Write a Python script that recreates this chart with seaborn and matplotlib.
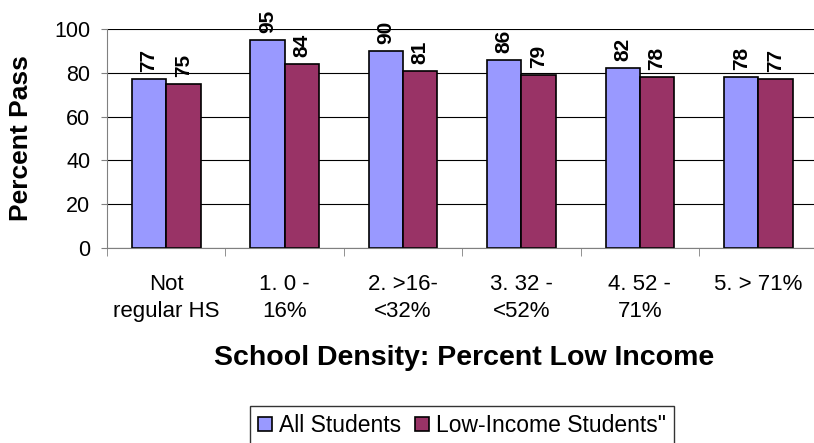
import pandas as pd
import seaborn as sns
import matplotlib.pyplot as plt

# Data
categories = ['Not\nregular HS', '1. 0 -\n16%', '2. >16-\n<32%', '3. 32 -\n<52%', '4. 52 -\n71%', '5. > 71%']
all_students = [77, 95, 90, 86, 82, 78]
low_income = [75, 84, 81, 79, 78, 77]
series_names = ['All Students', 'Low-Income Students"']

df = pd.DataFrame({
    'category': categories * 2,
    'value': all_students + low_income,
    'series': [series_names[0]] * len(categories) + [series_names[1]] * len(categories),
})

sns.set_style('white')
plt.rcParams['font.family'] = ['Liberation Sans', 'DejaVu Sans']
plt.rcParams['text.color'] = 'black'
plt.rcParams['axes.labelcolor'] = 'black'
plt.rcParams['xtick.color'] = 'black'
plt.rcParams['ytick.color'] = 'black'

fig = plt.figure(figsize=(8.14, 4.43), dpi=100)
ax = fig.add_axes([0.1314, 0.4402, 0.8686, 0.4943])

sns.barplot(data=df, x='category', y='value', hue='series', order=categories,
            hue_order=series_names, palette=['#9999FF', '#993366'],
            width=0.58, edgecolor='black', linewidth=1.2, saturation=1, ax=ax)

for container in ax.containers:
    ax.bar_label(container, labels=[f'{v:.0f}' for v in container.datavalues],
                 rotation=90, padding=5, fontsize=15, fontweight='bold', color='black')

ax.set_ylim(0, 100)
ax.set_yticks([0, 20, 40, 60, 80, 100])
ax.set_xlim(-0.5, 5.47)
ax.yaxis.grid(True, color='black', linewidth=0.8)
ax.set_axisbelow(True)
for s in ['top', 'right']:
    ax.spines[s].set_visible(False)
for s in ['left', 'bottom']:
    ax.spines[s].set_color('#808080')
ax.tick_params(axis='y', labelsize=15.5, length=4, color='#808080', labelcolor='black', left=True, pad=8)
ax.tick_params(axis='x', labelsize=16, length=0, labelcolor='black', pad=19)
for lbl in ax.get_xticklabels():
    lbl.set_linespacing(1.35)
# category separator ticks
ax.set_xticks([i - 0.5 for i in range(len(categories))], minor=True)
ax.tick_params(axis='x', which='minor', length=6, color='#808080', bottom=True)

ax.set_ylabel('Percent Pass', fontsize=19, fontweight='bold', color='black')
ax.yaxis.set_label_coords(-0.105, 0.5)
ax.set_xlabel('School Density: Percent Low Income', fontsize=20.5, fontweight='bold', color='black')
ax.xaxis.set_label_coords(0.505, -0.445)

ax.legend(loc='upper center', bbox_to_anchor=(462 / 814, 0.083), bbox_transform=fig.transFigure,
          ncol=2, frameon=True, fancybox=False, edgecolor='black', fontsize=16.5,
          handlelength=0.6, handleheight=0.6, handletextpad=0.33, columnspacing=0.6,
          borderpad=0.35, borderaxespad=0, labelcolor='black')

fig.savefig('out.png', dpi=100)
